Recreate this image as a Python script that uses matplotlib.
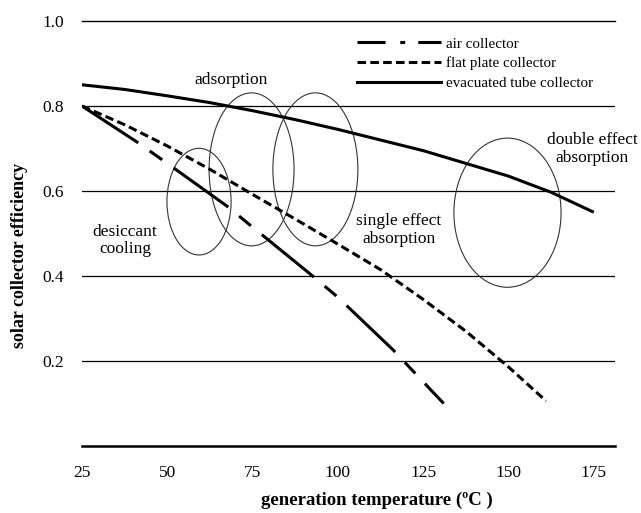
import matplotlib
matplotlib.use('Agg')
import matplotlib.pyplot as plt
from matplotlib.patches import Ellipse
from matplotlib.lines import Line2D

plt.rcParams['font.family'] = ['Liberation Serif', 'DejaVu Serif']

# curves
temp_air = [25, 41, 50, 67.4, 75, 92.3, 100, 116.2, 125, 131]
eff_air = [0.80, 0.716, 0.665, 0.565, 0.515, 0.402, 0.35, 0.226, 0.151, 0.10]
temp_flat = [25, 37.5, 50, 62.5, 75, 87.5, 100, 112.5, 125, 137.5, 150, 161]
eff_flat = [0.80, 0.756, 0.706, 0.651, 0.592, 0.534, 0.475, 0.415, 0.345, 0.27, 0.186, 0.106]
temp_evac = [25, 37.5, 50, 62.5, 75, 87.5, 100, 112.5, 125, 137.5, 150, 162.5, 175]
eff_evac = [0.85, 0.839, 0.824, 0.808, 0.789, 0.768, 0.745, 0.72, 0.695, 0.665, 0.635, 0.597, 0.55]

series_names = ['air collector', 'flat plate collector', 'evacuated tube collector']

# operating regions: label, centre temp, centre eff, width, height
regions = ['desiccant\ncooling', 'adsorption', 'single effect\nabsorption', 'double effect\nabsorption']
region_x = [59.3, 74.7, 93.4, 149.7]
region_y = [0.575, 0.651, 0.651, 0.549]
region_w = [18.8, 24.9, 24.9, 31.4]
region_h = [0.251, 0.36, 0.36, 0.351]
label_x = [37.6, 68.7, 117.9, 174.5]
label_y = [0.4835, 0.861, 0.508, 0.699]

xticks = [25, 50, 75, 100, 125, 150, 175]
yticks = [0.2, 0.4, 0.6, 0.8, 1.0]

fig = plt.figure(figsize=(6.41, 5.13), dpi=100)
ax = fig.add_axes([0.1279, 0.1306, 0.8315, 0.8284])
ax.set_xlim(25, 181.2)
ax.set_ylim(0, 1.0)

for yv in [0.2, 0.4, 0.6, 0.8]:
    ax.axhline(yv, color='black', lw=0.9, zorder=1)

for s in ['left', 'right']:
    ax.spines[s].set_visible(False)
ax.spines['bottom'].set_linewidth(1.8)
ax.spines['top'].set_linewidth(1.0)

air_dash = (0, (22, 4.6, 5, 4.6))
flat_dash = (0, (2.8, 1.4))
ax.plot(temp_air, eff_air, color='black', lw=2.2, linestyle=air_dash, dash_capstyle='butt', zorder=3)
ax.plot(temp_flat, eff_flat, color='black', lw=2.2, linestyle=flat_dash, dash_capstyle='butt', zorder=3)
ax.plot(temp_evac, eff_evac, color='black', lw=2.2, solid_capstyle='butt', zorder=3)

for i in range(len(regions)):
    e = Ellipse((region_x[i], region_y[i]), region_w[i], region_h[i],
                fill=False, edgecolor='#333333', lw=0.8, zorder=2)
    ax.add_patch(e)
    ax.text(label_x[i], label_y[i], regions[i], ha='center', va='center',
            fontsize=12.5, linespacing=1.15, clip_on=False, zorder=4)

ax.set_xticks(xticks)
ax.set_xticklabels([str(t) for t in xticks])
ax.set_yticks(yticks)
ax.set_yticklabels(['%.1f' % t for t in yticks])
ax.tick_params(axis='both', length=0, labelsize=12.5)
ax.tick_params(axis='x', pad=14)
ax.tick_params(axis='y', pad=13)

handles = [
    Line2D([], [], color='black', lw=2.2, linestyle=(0, (9.2, 4.8, 1.6, 4.3, 8))),
    Line2D([], [], color='black', lw=2.2, linestyle=flat_dash, dash_capstyle='butt'),
    Line2D([], [], color='black', lw=2.2),
]
ax.legend(handles, series_names, loc='upper left', bbox_to_anchor=(357 / 641, (513 - 37) / 513),
          bbox_transform=fig.transFigure, frameon=False, fontsize=10.8, handlelength=5.6,
          handletextpad=0.35, borderpad=0, borderaxespad=0, labelspacing=0.4)

fig.text(20 / 641, (513 - 255) / 513, 'solar collector efficiency', rotation=90,
         ha='center', va='center', fontsize=13, fontweight='bold')
fig.text(261 / 641, (513 - 500) / 513, 'generation temperature (ºC )',
         ha='left', va='center', fontsize=13.5, fontweight='bold')

fig.savefig('out.png', dpi=100)
